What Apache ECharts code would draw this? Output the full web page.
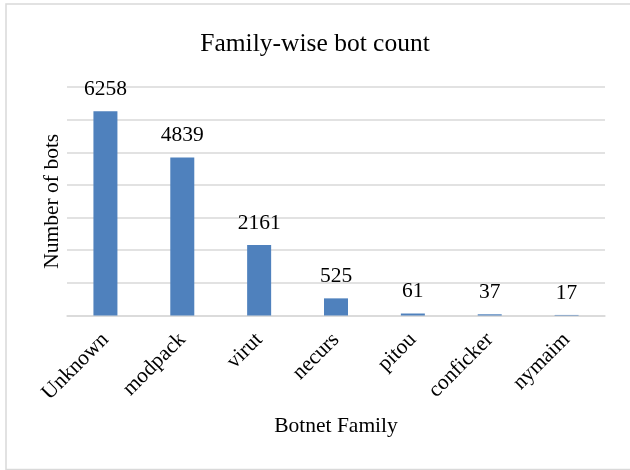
<!DOCTYPE html>
<html>
<head>
<meta charset="utf-8">
<script src="https://cdn.jsdelivr.net/npm/echarts@6/dist/echarts.min.js"></script>
<style>
  html, body { margin: 0; padding: 0; background: #ffffff; }
  #chart { width: 630px; height: 470px; }
</style>
</head>
<body>
<div id="chart"></div>
<script>
// Bot counts per botnet family
const families = ['Unknown', 'modpack', 'virut', 'necurs', 'pitou', 'conficker', 'nymaim'];
const botCounts = [6258, 4839, 2161, 525, 61, 37, 17];

const FONT = '"Liberation Serif", "Times New Roman", serif';

const chart = echarts.init(document.getElementById('chart'), null, { renderer: 'canvas' });

chart.setOption({
  backgroundColor: '#ffffff',
  animation: false,
  title: {
    text: 'Family-wise bot count',
    left: 'center',
    top: 26,
    textStyle: { fontFamily: FONT, fontSize: 25.5, fontWeight: 'normal', color: '#000000' }
  },
  graphic: [{
    type: 'rect',
    silent: true,
    shape: { x: 6, y: 4, width: 640, height: 465.5 },
    style: { fill: 'none', stroke: '#d9d9d9', lineWidth: 1.5 }
  }],
  grid: { left: 67, right: 25, top: 87, bottom: 154.5, containLabel: false },
  xAxis: {
    type: 'category',
    data: families,
    name: 'Botnet Family',
    nameLocation: 'middle',
    nameGap: 100,
    nameTextStyle: { fontFamily: FONT, fontSize: 21.5, color: '#000000' },
    axisLine: { show: true, lineStyle: { color: '#d9d9d9', width: 1.5 } },
    axisTick: { show: false },
    axisLabel: {
      rotate: 45,
      margin: 21,
      fontFamily: FONT,
      fontSize: 21.5,
      color: '#000000',
      interval: 0
    }
  },
  yAxis: {
    type: 'value',
    min: 0,
    max: 7000,
    interval: 1000,
    name: 'Number of bots',
    nameLocation: 'middle',
    nameGap: 4,
    nameTextStyle: { fontFamily: FONT, fontSize: 21.5, color: '#000000' },
    axisLine: { show: false },
    axisTick: { show: false },
    axisLabel: { show: false },
    splitLine: { show: true, lineStyle: { color: '#d9d9d9', width: 1.5 } }
  },
  series: [{
    type: 'bar',
    data: botCounts,
    barWidth: 24,
    itemStyle: { color: '#4f81bd' },
    label: {
      show: true,
      position: 'top',
      distance: 11,
      fontFamily: FONT,
      fontSize: 21.5,
      color: '#000000'
    }
  }]
});
</script>
</body>
</html>
